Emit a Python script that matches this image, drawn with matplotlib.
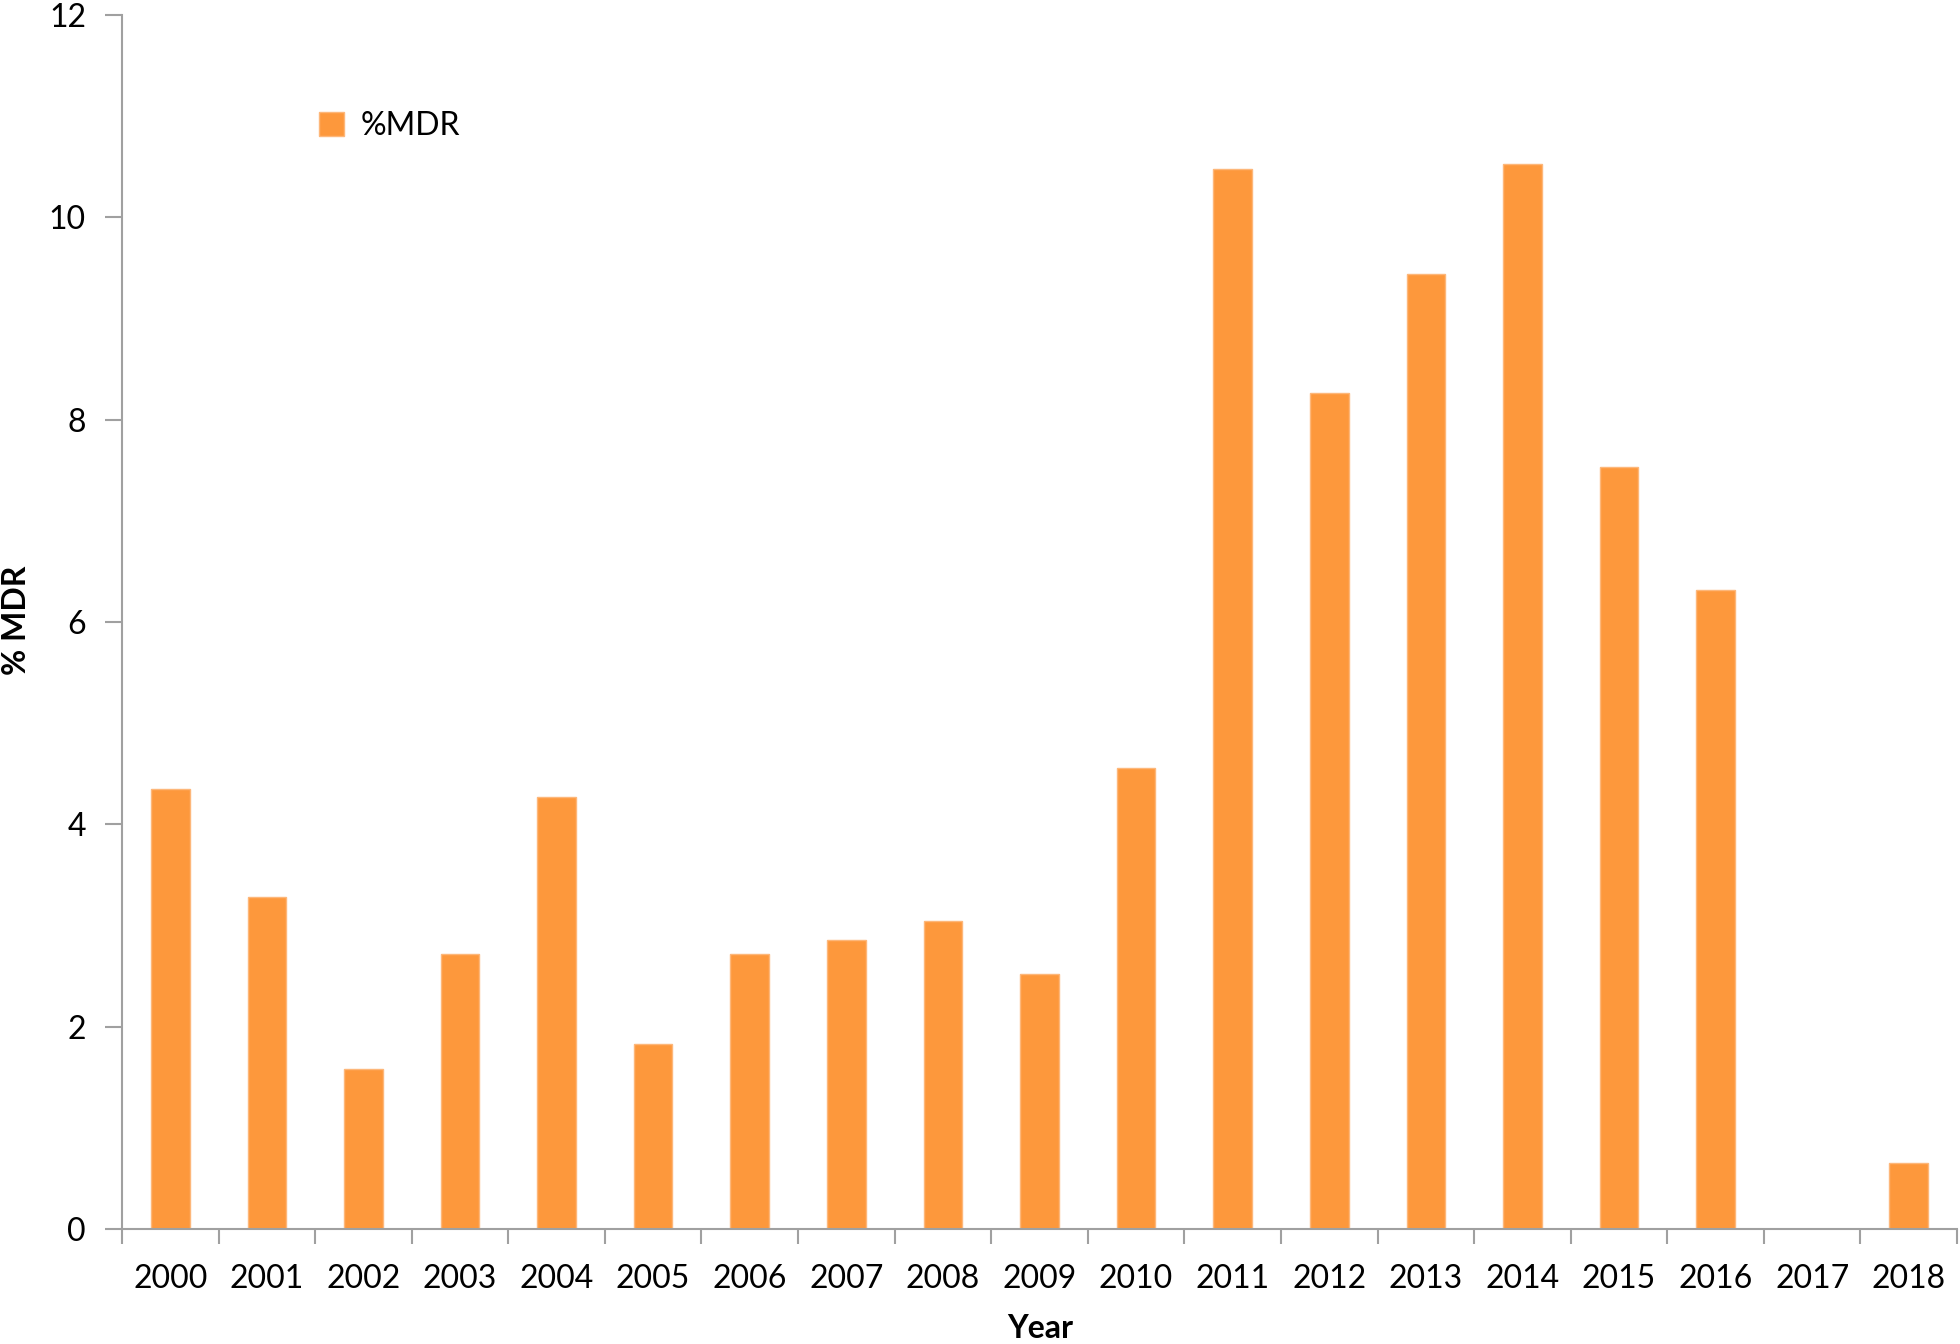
import matplotlib
matplotlib.use("Agg")
import matplotlib.pyplot as plt
import numpy as np

years = ["2000", "2001", "2002", "2003", "2004", "2005", "2006", "2007", "2008", "2009",
         "2010", "2011", "2012", "2013", "2014", "2015", "2016", "2017", "2018"]
mdr = [4.35, 3.28, 1.58, 2.72, 4.27, 1.83, 2.72, 2.86, 3.04, 2.52,
       4.56, 10.48, 8.26, 9.44, 10.53, 7.53, 6.32, 0.0, 0.65]
yticks = [0, 2, 4, 6, 8, 10, 12]

plt.rcParams['font.family'] = ['Lato', 'DejaVu Sans']

fig = plt.figure(figsize=(19.6, 13.44), dpi=100)
ax = fig.add_axes([122/1960, 1 - 1229/1344, (1957-122)/1960, (1229-15)/1344])

x = np.arange(len(years))
ax.bar(x, mdr, width=0.4, color="#FD983C", edgecolor="#FDB77A", linewidth=1.0, label="%MDR", zorder=2)

ax.set_xlim(-0.5, len(years) - 0.5)
ax.set_ylim(0, 12)
ax.set_yticks(yticks)
ax.set_yticklabels([str(v) for v in yticks], fontsize=23)
ax.set_xticks(x)
ax.set_xticklabels(years, fontsize=23)
ax.set_xticks(np.arange(-0.5, len(years), 1.0), minor=True)
ax.tick_params(axis='x', which='major', length=0, pad=25)
ax.tick_params(axis='x', which='minor', length=11, width=1.5, color="#A0A0A0")
ax.tick_params(axis='y', which='major', length=12, width=1.5, color="#A0A0A0", pad=14)

for s in ["top", "right"]:
    ax.spines[s].set_visible(False)
for s in ["left", "bottom"]:
    ax.spines[s].set_color("#A0A0A0")
    ax.spines[s].set_linewidth(1.5)

fig.text(1040/1960, 1 - 1328/1344, "Year", fontsize=23, fontweight="bold", ha="center", va="center")
fig.text(16/1960, 1 - 620/1344, "% MDR", fontsize=23, fontweight="bold", ha="center", va="center", rotation=90)

leg = ax.legend(loc="center left", bbox_to_anchor=(290/1960, 1 - 126/1344), bbox_transform=fig.transFigure,
                frameon=False, fontsize=23, handlelength=0.8, handleheight=0.8, handletextpad=0.5)

fig.savefig("out.png", dpi=100, facecolor="white")
